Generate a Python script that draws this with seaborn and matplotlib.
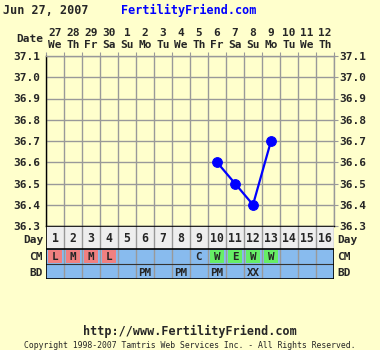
import matplotlib
matplotlib.use("Agg")
import matplotlib.pyplot as plt
from matplotlib.patches import Rectangle
import seaborn as sns
import pandas as pd
import numpy as np

# ---- data ----
header_date = "Jun 27, 2007"
site = "FertilityFriend.com"
date_nums = ["27", "28", "29", "30", "1", "2", "3", "4", "5", "6", "7", "8", "9", "10", "11", "12"]
weekdays = ["We", "Th", "Fr", "Sa", "Su", "Mo", "Tu", "We", "Th", "Fr", "Sa", "Su", "Mo", "Tu", "We", "Th"]
cycle_days = list(range(1, 17))
temp_days = [10, 11, 12, 13]
temps = [36.6, 36.5, 36.4, 36.7]
temp_ticks = [36.3, 36.4, 36.5, 36.6, 36.7, 36.8, 36.9, 37.0, 37.1]
cm_days = [1, 2, 3, 4, 9, 10, 11, 12, 13]
cm_vals = ["L", "M", "M", "L", "C", "W", "E", "W", "W"]
cm_kind = ["red", "red", "red", "red", "none", "green", "green", "green", "green"]
bd_days = [6, 8, 10, 12]
bd_vals = ["PM", "PM", "PM", "XX"]

# ---- style ----
W, H = 380, 350
BG = "#FFFFCC"
GRID = "#999999"
BLUE_ROW = "#88BBEE"
DAY_BG = "#EEEEEE"
RED = "#F08080"
GREEN = "#66EE66"
MONO = ["DejaVu Sans Mono"]
FS = 8.0

sns.set_style("white")
plt.rcParams["font.family"] = MONO

fig = plt.figure(figsize=(W / 100, H / 100), dpi=100, facecolor=BG)

def fx(x):
    return x / W

def fy(y):
    return 1 - y / H

L, R = 46, 334
T_TOP, T_BOT = 56, 226
TAB_BOT = 279

# ---- temperature axes ----
ax = fig.add_axes([fx(L), fy(T_BOT), (R - L) / W, (T_BOT - T_TOP) / H])
ax.set_facecolor(BG)
df = pd.DataFrame({"x": [d - 0.5 for d in temp_days], "temp": temps})
sns.lineplot(data=df, x="x", y="temp", ax=ax, color="#0000FF", marker="o",
             markersize=7, markeredgecolor="#0000FF", linewidth=1.6, zorder=5)
ax.set_xlim(0, 16)
ax.set_ylim(36.3, 37.1)
ax.set_xticks(np.arange(0, 17, 1))
ax.set_yticks(temp_ticks)
ax.grid(True, color=GRID, linewidth=1.0)
ax.set_axisbelow(True)
ax.set_xlabel("")
ax.set_ylabel("")
ax.tick_params(axis="x", which="both", bottom=False, top=True, labelbottom=False,
               length=3, color=GRID, direction="out")
ax.tick_params(axis="y", left=False, right=True, labelleft=True, labelright=True,
               length=3, color=GRID, pad=1, labelsize=FS)
ax.set_yticklabels([f"{t:.1f}" for t in temp_ticks], fontweight="bold", family=MONO)
ax.spines["left"].set_color("black")
ax.spines["bottom"].set_color("black")
ax.spines["top"].set_color(GRID)
ax.spines["right"].set_color(GRID)
for s in ax.spines.values():
    s.set_linewidth(1.0)

# ---- table axes ----
tb = fig.add_axes([fx(L), fy(TAB_BOT), (R - L) / W, (TAB_BOT - T_BOT) / H])
tb.set_xlim(0, 16)
tb.set_ylim(TAB_BOT - T_BOT, 0)
tb.axis("off")
tb.add_patch(Rectangle((0, 0), 16, 23, facecolor=DAY_BG, edgecolor="none"))
tb.add_patch(Rectangle((0, 23), 16, 30, facecolor=BLUE_ROW, edgecolor="none"))
for d, v, k in zip(cm_days, cm_vals, cm_kind):
    if k != "none":
        col = RED if k == "red" else GREEN
        tb.add_patch(Rectangle((d - 1 + 0.09, 24.4), 0.82, 12.4, facecolor=col, edgecolor="none"))
    tb.text(d - 0.5, 30.8, v, ha="center", va="center", fontsize=7.8, fontweight="bold")
for d, v in zip(bd_days, bd_vals):
    tb.text(d - 0.5, 46.5, v, ha="center", va="center", fontsize=7.8, fontweight="bold")
for d in cycle_days:
    tb.text(d - 0.5, 13, str(d), ha="center", va="center", fontsize=8.3, fontweight="bold")
for i in range(1, 16):
    tb.plot([i, i], [0, 53], color=GRID, linewidth=1.0)
tb.plot([0, 16], [0, 0], color="black", linewidth=1.2)
tb.plot([0, 16], [23, 23], color="black", linewidth=1.2)
tb.plot([0, 16], [38, 38], color="#333333", linewidth=0.8)
tb.plot([0, 16], [53, 53], color="black", linewidth=1.2)
tb.plot([0, 0], [0, 53], color="black", linewidth=1.2)
tb.plot([16, 16], [0, 23], color=GRID, linewidth=1.0)
tb.plot([16, 16], [23, 53], color="black", linewidth=1.2)

# row labels
for name, y in [("Day", 240), ("CM", 257), ("BD", 272.5)]:
    fig.text(fx(43), fy(y), name, ha="right", va="center", fontsize=FS, fontweight="bold")
    fig.text(fx(337), fy(y), name, ha="left", va="center", fontsize=FS, fontweight="bold")

# ---- header ----
fig.text(fx(3), fy(10), header_date, ha="left", va="center", fontsize=8.5, fontweight="bold")
fig.text(fx(189), fy(10), site, ha="center", va="center", fontsize=8.5, fontweight="bold", color="#0000FF")
fig.text(fx(43), fy(39), "Date", ha="right", va="center", fontsize=FS, fontweight="bold")
for i, (n, wd) in enumerate(zip(date_nums, weekdays)):
    xc = L + (i + 0.5) * 18
    fig.text(fx(xc), fy(33), n, ha="center", va="center", fontsize=FS, fontweight="bold")
    fig.text(fx(xc), fy(45), wd, ha="center", va="center", fontsize=FS, fontweight="bold")

# ---- footer ----
fig.text(fx(190), fy(331), "http://www.FertilityFriend.com", ha="center", va="center",
         fontsize=8.5, fontweight="bold")
fig.text(fx(190), fy(345), "Copyright 1998-2007 Tamtris Web Services Inc. - All Rights Reserved.",
         ha="center", va="center", fontsize=5.9)

fig.savefig("out.png", dpi=100, facecolor=BG)
